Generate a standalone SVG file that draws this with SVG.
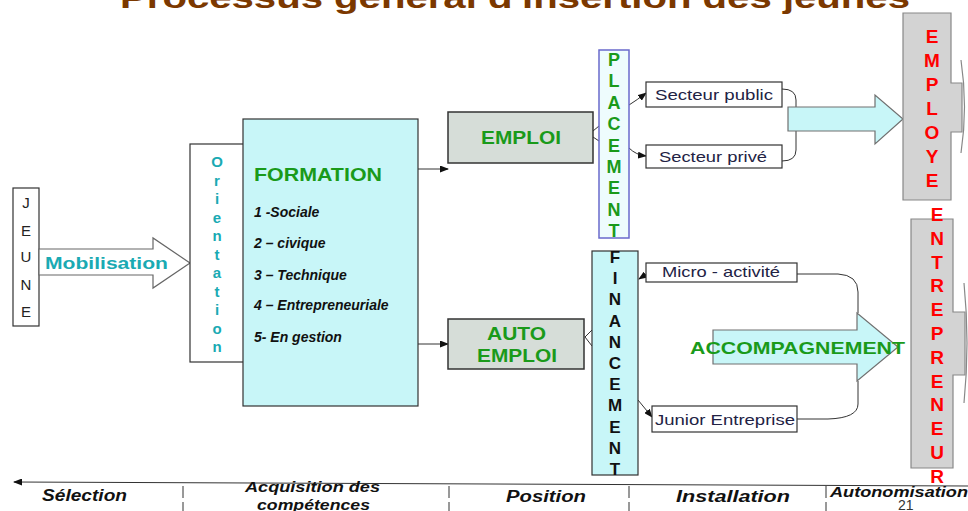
<svg xmlns="http://www.w3.org/2000/svg" width="968" height="511" viewBox="0 0 968 511">
<style>
  text { font-family: "Liberation Sans", Arial, sans-serif; }
  .title { font-size: 30px; font-weight: bold; fill: #7b3800; }
  .box { fill: #ffffff; stroke: #333333; stroke-width: 1.2; }
  .cyan { fill: #c8f6f8; stroke: #333333; stroke-width: 1.2; }
  .grey { fill: #d6ddd8; stroke: #333333; stroke-width: 1.5; }
  .blk { fill: #d3d3d3; stroke: #888888; stroke-width: 1.2; }
  .barrow { fill: #c8f6f8; stroke: #707070; stroke-width: 1.2; }
  .warrow { fill: #ffffff; stroke: #666666; stroke-width: 1.2; }
  .teal { fill: #1aaab3; }
  .green { fill: #1a9a1a; font-weight: bold; }
  .red { fill: #ff0000; font-weight: bold; font-size: 19px; }
  .vl { text-anchor: middle; }
  .item { font-size: 14px; font-weight: bold; font-style: italic; fill: #111111; }
  .lab { font-size: 15px; fill: #222244; }
  .tl { font-weight: bold; font-style: italic; fill: #111111; }
  .conn { fill: none; stroke: #333333; stroke-width: 1; }
  .edge { fill: none; stroke: #888888; stroke-width: 1.2; }
  .sep { fill: none; stroke: #333333; stroke-width: 1; stroke-dasharray: 12 4; }
</style>
<defs>
  <marker id="ah" markerUnits="userSpaceOnUse" markerWidth="9" markerHeight="7" refX="8" refY="3.5" orient="auto">
    <path d="M0,0 L9,3.5 L0,7 Z" fill="#111111"/>
  </marker>
</defs>

<g id="title">
  <text class="title" x="120" y="8" textLength="790" lengthAdjust="spacingAndGlyphs">Processus général d'insertion des jeunes</text>
</g>

<g id="connectors">
  <line class="conn" x1="418" y1="169" x2="448" y2="169" marker-end="url(#ah)"/>
  <line class="conn" x1="418" y1="344" x2="448" y2="344" marker-end="url(#ah)"/>
  <path class="conn" d="M599,126 L593,131 M593,137 L599,141"/>
  <path class="conn" d="M592,330 L585,337 L592,346"/>
  <path class="conn" d="M629,105 Q637,100 646,93" marker-end="url(#ah)"/>
  <path class="conn" d="M629,148 Q636,155 646,156" marker-end="url(#ah)"/>
  <path class="conn" d="M782,89 Q796,89 796,100 V150 Q796,161 782,161"/>
  <path class="conn" d="M648,273 L639,279" marker-end="url(#ah)"/>
  <path class="conn" d="M638,400 L652,417" marker-end="url(#ah)"/>
  <path class="conn" d="M797,274 H838 Q858,275 858,292 V313"/>
  <path class="conn" d="M858,381 V404 Q858,418 828,419 H797"/>
</g>

<g id="jeune">
  <rect class="box" x="13" y="188" width="26" height="138"/>
  <g class="vl" style="font-size:15px;fill:#222222">
    <text x="26" y="208">J</text>
    <text x="26" y="236">E</text>
    <text x="26" y="262">U</text>
    <text x="26" y="290">N</text>
    <text x="26" y="317">E</text>
  </g>
</g>

<g id="mobilisation">
  <polygon class="warrow" points="39,249 153,249 153,238 190,263 153,288 153,275 39,275"/>
  <text class="teal" x="45" y="269" style="font-size:17px;font-weight:bold" textLength="123" lengthAdjust="spacingAndGlyphs">Mobilisation</text>
</g>

<g id="orientation">
  <rect class="box" x="190" y="144" width="60" height="218"/>
  <g class="vl teal" style="font-size:15px;font-weight:bold">
    <text x="217" y="167">O</text>
    <text x="217" y="185.5">r</text>
    <text x="217" y="204">i</text>
    <text x="217" y="222.5">e</text>
    <text x="217" y="241">n</text>
    <text x="217" y="259.5">t</text>
    <text x="217" y="278">a</text>
    <text x="217" y="296.5">t</text>
    <text x="217" y="315">i</text>
    <text x="217" y="333.5">o</text>
    <text x="217" y="352">n</text>
  </g>
</g>

<g id="formation">
  <rect class="cyan" x="243" y="119" width="175" height="287"/>
  <text class="green" x="254" y="181" style="font-size:19px" textLength="128" lengthAdjust="spacingAndGlyphs">FORMATION</text>
  <text class="item" x="254" y="217">1 -Sociale</text>
  <text class="item" x="254" y="248">2 – civique</text>
  <text class="item" x="254" y="280">3 – Technique</text>
  <text class="item" x="254" y="310">4 – Entrepreneuriale</text>
  <text class="item" x="254" y="342">5- En gestion</text>
</g>

<g id="emploi">
  <rect class="grey" x="448" y="112" width="145" height="51"/>
  <text class="green" x="481" y="144" style="font-size:18px" textLength="80" lengthAdjust="spacingAndGlyphs">EMPLOI</text>
</g>

<g id="auto-emploi">
  <rect class="grey" x="448" y="319" width="136" height="50"/>
  <text class="green" x="487" y="340" style="font-size:18px" textLength="59" lengthAdjust="spacingAndGlyphs">AUTO</text>
  <text class="green" x="477" y="362" style="font-size:18px" textLength="80" lengthAdjust="spacingAndGlyphs">EMPLOI</text>
</g>

<g id="placement">
  <rect x="599" y="50" width="30" height="188" fill="#eefcfd" stroke="#6a6acc" stroke-width="1.5"/>
  <g class="vl green" style="font-size:18px">
    <text x="614" y="66">P</text>
    <text x="614" y="87.4">L</text>
    <text x="614" y="108.8">A</text>
    <text x="614" y="130.2">C</text>
    <text x="614" y="151.6">E</text>
    <text x="614" y="173">M</text>
    <text x="614" y="194.4">E</text>
    <text x="614" y="215.8">N</text>
    <text x="614" y="237">T</text>
  </g>
</g>

<g id="financement">
  <rect class="cyan" x="592" y="251" width="46" height="224"/>
  <g class="vl" style="font-size:17px;font-weight:bold;fill:#111111">
    <text x="615" y="263">F</text>
    <text x="615" y="284.2">I</text>
    <text x="615" y="305.4">N</text>
    <text x="615" y="326.6">A</text>
    <text x="615" y="347.8">N</text>
    <text x="615" y="369">C</text>
    <text x="615" y="390.2">E</text>
    <text x="615" y="411.4">M</text>
    <text x="615" y="432.6">E</text>
    <text x="615" y="453.8">N</text>
    <text x="615" y="475">T</text>
  </g>
</g>

<g id="secteur-public">
  <rect class="box" x="646" y="82" width="136" height="25"/>
  <text class="lab" x="655" y="100" textLength="118" lengthAdjust="spacingAndGlyphs">Secteur public</text>
</g>

<g id="secteur-prive">
  <rect class="box" x="646" y="145" width="136" height="23"/>
  <text class="lab" x="659" y="162" textLength="108" lengthAdjust="spacingAndGlyphs">Secteur privé</text>
</g>

<g id="micro-activite">
  <rect class="box" x="646" y="263" width="151" height="19"/>
  <text class="lab" x="662" y="277" textLength="118" lengthAdjust="spacingAndGlyphs">Micro - activité</text>
</g>

<g id="junior-entreprise">
  <rect class="box" x="652" y="406" width="145" height="26"/>
  <text class="lab" x="655" y="425" textLength="140" lengthAdjust="spacingAndGlyphs">Junior Entreprise</text>
</g>

<g id="arrow-employe">
  <polygon class="barrow" points="788,107 875,107 875,95 903,119 875,144 875,131 788,131"/>
</g>

<g id="accompagnement">
  <polygon class="barrow" points="713,330 857,330 857,313 898,347 857,381 857,364 713,364"/>
  <text class="green" x="690" y="354" style="font-size:17px" textLength="215" lengthAdjust="spacingAndGlyphs">ACCOMPAGNEMENT</text>
</g>

<g id="employe">
  <path class="blk" d="M903,13 H951 V83 H962 V132 H951 V200 H903 Z"/>
  <path class="edge" d="M961,60 Q968,107 961,153"/>
  <g class="vl red">
    <text x="932" y="43">E</text>
    <text x="932" y="67">M</text>
    <text x="932" y="91">P</text>
    <text x="932" y="115">L</text>
    <text x="932" y="139">O</text>
    <text x="932" y="163">Y</text>
    <text x="932" y="187">E</text>
  </g>
</g>

<g id="entrepreneur">
  <path class="blk" d="M911,219 H953 V312 H965 V375 H953 V468 H911 Z"/>
  <path class="edge" d="M964,283 Q970,343 964,403"/>
  <g class="vl red">
    <text x="937" y="221">E</text>
    <text x="937" y="244.8">N</text>
    <text x="937" y="268.6">T</text>
    <text x="937" y="292.4">R</text>
    <text x="937" y="316.2">E</text>
    <text x="937" y="340">P</text>
    <text x="937" y="363.8">R</text>
    <text x="937" y="387.6">E</text>
    <text x="937" y="411.4">N</text>
    <text x="937" y="435.2">E</text>
    <text x="937" y="459">U</text>
    <text x="937" y="483">R</text>
  </g>
</g>

<g id="timeline">
  <path class="conn" d="M968,486 L14,482" marker-end="url(#ah)"/>
  <path class="sep" d="M183,486 V511 M449,486 V511 M629,486 V511 M826,486 V511"/>
  <text class="tl" x="42" y="501" style="font-size:16px" textLength="85" lengthAdjust="spacingAndGlyphs">Sélection</text>
  <text class="tl" x="245" y="492" style="font-size:14px" textLength="135" lengthAdjust="spacingAndGlyphs">Acquisition des</text>
  <text class="tl" x="257" y="510" style="font-size:14px" textLength="113" lengthAdjust="spacingAndGlyphs">compétences</text>
  <text class="tl" x="506" y="502" style="font-size:16px" textLength="80" lengthAdjust="spacingAndGlyphs">Position</text>
  <text class="tl" x="676" y="502" style="font-size:16px" textLength="114" lengthAdjust="spacingAndGlyphs">Installation</text>
  <text x="898" y="510" style="font-size:14px;fill:#333333">21</text>
  <text class="tl" x="830" y="497" style="font-size:14px" textLength="138" lengthAdjust="spacingAndGlyphs">Autonomisation</text>
</g>
</svg>
